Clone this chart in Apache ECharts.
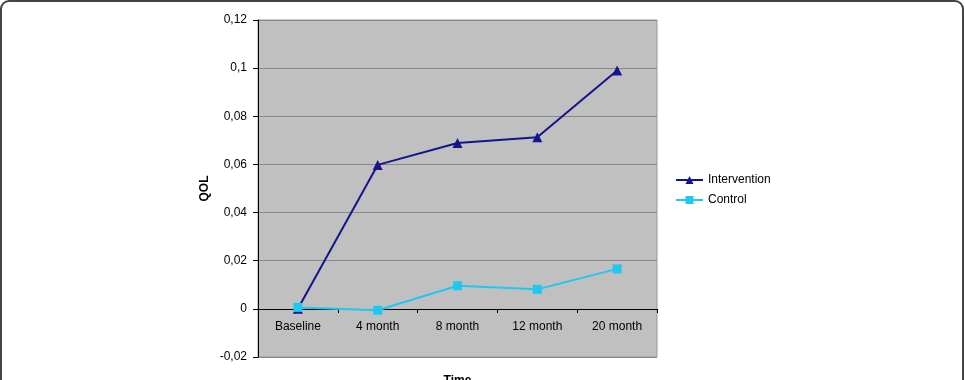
<!DOCTYPE html>
<html>
<head>
<meta charset="utf-8">
<script src="https://cdn.jsdelivr.net/npm/echarts@6/dist/echarts.min.js"></script>
<style>
  html, body { margin: 0; padding: 0; background: #fff; }
  #chart { width: 965px; height: 380px; }
</style>
</head>
<body>
<div id="chart"></div>
<script>
var categories = ['Baseline', '4 month', '8 month', '12 month', '20 month'];
var intervention = [0, 0.0598, 0.0689, 0.0713, 0.0990];
var control = [0.0006, -0.0006, 0.0096, 0.0081, 0.0166];

var chart = echarts.init(document.getElementById('chart'));

function fmt(v) {
  return String(parseFloat(v.toFixed(2))).replace('.', ',');
}

var txt = { color: '#000', fontFamily: 'Liberation Sans, Arial, sans-serif', fontSize: 12 };

// grid spans -0.02..0.12 over 337px, so zero sits 48px above the bottom edge
var option = {
  animation: false,
  backgroundColor: '#fff',
  textStyle: txt,
  graphic: [{
    type: 'rect',
    shape: { x: 1, y: 1, width: 962, height: 420, r: 8 },
    style: { fill: 'none', stroke: '#444', lineWidth: 2 },
    silent: true
  }],
  grid: {
    left: 258,
    right: 308,
    top: 20,
    bottom: 23,
    outerBoundsMode: 'none',
    containLabel: false,
    show: true,
    backgroundColor: '#c0c0c0',
    borderColor: '#999',
    borderWidth: 1
  },
  legend: {
    orient: 'vertical',
    left: 670,
    top: 169,
    itemWidth: 27,
    itemHeight: 10,
    itemGap: 8,
    textStyle: txt,
    data: ['Intervention', 'Control']
  },
  xAxis: {
    type: 'category',
    data: categories,
    boundaryGap: true,
    offset: -48,
    name: 'Time',
    nameLocation: 'middle',
    nameGap: 66,
    nameTextStyle: { fontWeight: 'bold', fontSize: 12, color: '#000' },
    axisLine: { onZero: false, lineStyle: { color: '#000', width: 1 } },
    axisTick: { show: true, length: 4, lineStyle: { color: '#000' } },
    axisLabel: { color: '#000', fontSize: 12, margin: 12 },
    splitLine: { show: false }
  },
  yAxis: {
    type: 'value',
    min: -0.02,
    max: 0.12,
    interval: 0.02,
    name: 'QOL',
    nameLocation: 'middle',
    nameRotate: 90,
    nameGap: 47,
    nameTextStyle: { fontWeight: 'bold', fontSize: 12, color: '#000' },
    axisLine: { show: true, lineStyle: { color: '#000', width: 1 } },
    axisTick: { show: true, length: 5, lineStyle: { color: '#000' } },
    axisLabel: { color: '#000', fontSize: 12, margin: 11, formatter: fmt },
    splitLine: { show: true, lineStyle: { color: '#888', width: 1 } }
  },
  series: [{
    name: 'Intervention',
    type: 'line',
    data: intervention,
    color: '#14148c',
    symbol: 'triangle',
    symbolSize: 10,
    lineStyle: { width: 2, color: '#14148c' },
    itemStyle: { color: '#14148c' }
  }, {
    name: 'Control',
    type: 'line',
    data: control,
    color: '#1ec8f0',
    symbol: 'rect',
    symbolSize: 9,
    lineStyle: { width: 2, color: '#1ec8f0' },
    itemStyle: { color: '#1ec8f0' }
  }]
};

chart.setOption(option);
</script>
</body>
</html>
